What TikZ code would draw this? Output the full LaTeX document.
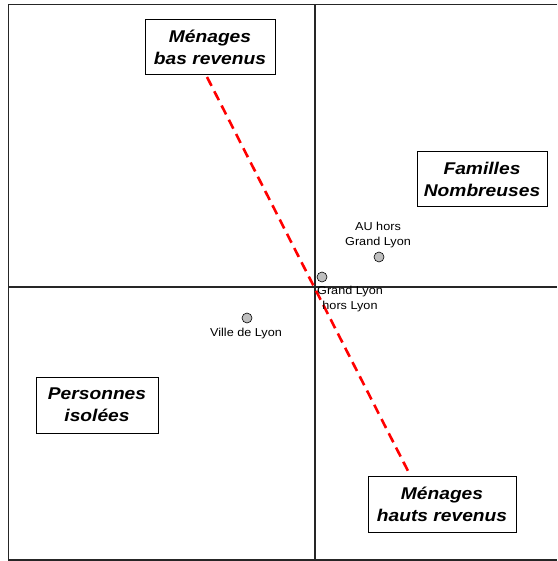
\documentclass[tikz,border=0pt]{standalone}
\usepackage{fontspec}
\setmainfont{Liberation Sans}
\newfontfamily\catfont[FakeStretch=1.13]{Liberation Sans}
\newfontfamily\lblfont[FakeStretch=1.1]{Liberation Sans}
\begin{document}
\begin{tikzpicture}[x=1pt,y=-1pt,
  catbox/.style={draw=black,line width=1pt,fill=white,align=center,inner sep=0pt,
    font=\catfont\fontsize{17}{22}\selectfont\bfseries\itshape},
  ptlabel/.style={align=center,inner sep=0pt,font=\lblfont\fontsize{11.5}{15}\selectfont},
  pt/.style={circle,draw=black,line width=0.6pt,fill=black!25,minimum size=10pt,inner sep=0pt},
  axis/.style={line width=1.3pt,draw=black!85},
  trend/.style={red,line width=2.6pt,dash pattern=on 10pt off 6pt}]
\useasboundingbox (0,0) rectangle (557,561);
% frame and axes
\draw[axis] (557,4.5) -- (8.5,4.5) -- (8.5,560) -- (557,560);
\draw[axis] (8.5,287) -- (557,287);
\draw[axis] (315,4.5) -- (315,560);
% trend line
\coordinate (r1) at (207,77);
\coordinate (r2) at (408,471);
\draw[trend] (r1) -- (r2);
% category boxes
\node[catbox,minimum width=130pt,minimum height=55pt] (bas) at (210,47.5) {Ménages\\bas revenus};
\node[catbox,minimum width=130pt,minimum height=54pt] (fam) at (482,179) {Familles\\Nombreuses};
\node[catbox,minimum width=122pt,minimum height=56pt] (iso) at (97,405) {Personnes\\isolées};
\node[catbox,minimum width=148pt,minimum height=56pt] (haut) at (442,504) {Ménages\\hauts revenus};
% points
\node[pt] (au) at (379,257) {};
\node[ptlabel] (aul) at (378,235) {AU hors\\Grand Lyon};
\node[pt] (gl) at (322,277) {};
\node[ptlabel] (gll) at (350,299) {Grand Lyon\\hors Lyon};
\node[pt] (vl) at (247,318) {};
\node[ptlabel] (vll) at (246,333.5) {Ville de Lyon};
\end{tikzpicture}
\end{document}
